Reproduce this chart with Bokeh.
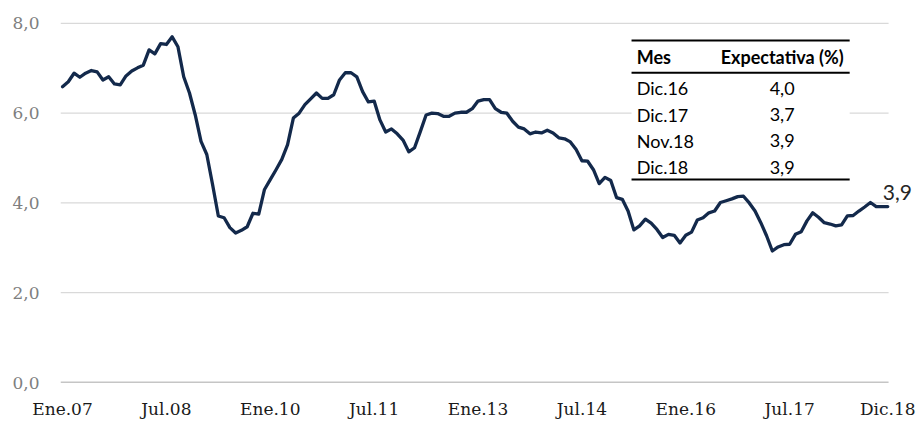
from bokeh.plotting import figure
from bokeh.models import (Range1d, FixedTicker, CustomJSTickFormatter, Label,
                          BoxAnnotation, ColumnDataSource)
from bokeh.embed import file_html
from bokeh.resources import INLINE

# ---- data -------------------------------------------------------------
expectativa = [
    6.59, 6.70, 6.89, 6.80, 6.89, 6.95, 6.92, 6.74, 6.81, 6.65, 6.63, 6.83,
    6.94, 7.01, 7.07, 7.41, 7.32, 7.55, 7.53, 7.70, 7.48, 6.81, 6.45, 5.96,
    5.37, 5.08, 4.41, 3.71, 3.67, 3.45, 3.33, 3.39, 3.47, 3.77, 3.75, 4.30,
    4.52, 4.74, 4.97, 5.30, 5.89, 6.00, 6.19, 6.32, 6.45, 6.33, 6.33, 6.41,
    6.74, 6.90, 6.90, 6.81, 6.48, 6.25, 6.27, 5.85, 5.58, 5.65, 5.54, 5.40,
    5.14, 5.23, 5.59, 5.96, 6.00, 5.99, 5.93, 5.93, 6.00, 6.02, 6.02, 6.10,
    6.27, 6.30, 6.30, 6.10, 6.02, 6.00, 5.82, 5.69, 5.65, 5.54, 5.58, 5.56,
    5.62, 5.56, 5.45, 5.43, 5.36, 5.19, 4.94, 4.93, 4.74, 4.43, 4.57, 4.50,
    4.12, 4.08, 3.82, 3.40, 3.49, 3.64, 3.55, 3.41, 3.23, 3.30, 3.28, 3.11,
    3.28, 3.35, 3.62, 3.67, 3.78, 3.82, 4.01, 4.05, 4.09, 4.14, 4.15, 4.00,
    3.82, 3.56, 3.27, 2.93, 3.02, 3.07, 3.08, 3.30, 3.36, 3.60, 3.78, 3.68,
    3.56, 3.53, 3.49, 3.51, 3.71, 3.72, 3.82, 3.91, 4.01, 3.92, 3.92, 3.92,
]
mes_idx = list(range(len(expectativa)))  # Ene.07 ... Dic.18

tick_idx = [0, 18, 36, 54, 72, 90, 108, 126, 143]
tick_labels = ["Ene.07", "Jul.08", "Ene.10", "Jul.11", "Ene.13",
               "Jul.14", "Ene.16", "Jul.17", "Dic.18"]
y_ticks = [0, 2, 4, 6, 8]

tabla_header = ["Mes", "Expectativa (%)"]
tabla_mes = ["Dic.16", "Dic.17", "Nov.18", "Dic.18"]
tabla_valor = ["4,0", "3,7", "3,9", "3,9"]

# ---- figure -----------------------------------------------------------
LINE_COLOR = "#13294b"
SERIF = "DejaVu Serif"
SANS = "Lato"

X_START, X_END = -0.35, 148.5     # frame runs to the right edge
GRID_END = 143.14                 # gridlines / axis line stop here

p = figure(width=919, height=421, output_backend="svg", toolbar_location=None,
           x_range=Range1d(X_START, X_END), y_range=Range1d(0, 8.51),
           min_border_left=60, min_border_right=0, min_border_top=0,
           min_border_bottom=37)
p.outline_line_color = None
p.background_fill_color = "white"
p.border_fill_color = "white"

# grid drawn as segments so that it stops before the end label
p.xgrid.grid_line_color = None
p.ygrid.grid_line_color = None
grid_y = y_ticks[1:]
p.segment(x0=[X_START] * len(grid_y), x1=[GRID_END] * len(grid_y),
          y0=grid_y, y1=grid_y, line_color="#d9d9d9", line_width=1.3)
p.segment(x0=[X_START], x1=[GRID_END], y0=[y_ticks[0]], y1=[y_ticks[0]],
          line_color="#8c8c8c", line_width=1.3)

# y axis
p.yaxis.ticker = FixedTicker(ticks=y_ticks)
p.yaxis.axis_line_color = None
p.yaxis.major_tick_line_color = None
p.yaxis.minor_tick_line_color = None
p.yaxis.major_tick_in = 0
p.yaxis.major_tick_out = 0
p.yaxis.major_label_standoff = 21
p.yaxis.major_label_text_font = SERIF
p.yaxis.major_label_text_font_size = "17px"
p.yaxis.major_label_text_color = "#7f7f7f"
p.yaxis.formatter = CustomJSTickFormatter(
    code="return tick.toFixed(1).replace('.', ',');")

# x axis
p.xaxis.ticker = FixedTicker(ticks=tick_idx)
p.xaxis.major_label_overrides = {t: l for t, l in zip(tick_idx, tick_labels)}
p.xaxis.axis_line_color = None
p.xaxis.major_tick_line_color = None
p.xaxis.minor_tick_line_color = None
p.xaxis.major_tick_in = 0
p.xaxis.major_tick_out = 0
p.xaxis.major_label_standoff = 16
p.xaxis.major_label_text_font = SERIF
p.xaxis.major_label_text_font_size = "17px"
p.xaxis.major_label_text_color = "#1a1a1a"

# series
src = ColumnDataSource(dict(x=mes_idx, y=expectativa))
p.line("x", "y", source=src, line_color=LINE_COLOR, line_width=3.3,
       line_join="round", line_cap="round")

# end label
p.add_layout(Label(x=mes_idx[-1], y=expectativa[-1],
                   text=f"{expectativa[-1]:.1f}".replace(".", ","),
                   x_offset=-5, y_offset=14, text_baseline="middle",
                   text_align="left", text_font=SANS,
                   text_font_size="21px", text_color="#262626"))

# ---- table (annotation) ----------------------------------------------
tab_left, tab_right = 98.6, 136.4
p.add_layout(BoxAnnotation(left=tab_left, right=tab_right, top=7.91,
                           bottom=4.39, fill_color="white", fill_alpha=1.0,
                           line_color=None))
rule_y = [7.62, 6.90, 4.52]
p.segment(x0=[tab_left] * 3, x1=[tab_right] * 3, y0=rule_y, y1=rule_y,
          line_color="black", line_width=2, level="overlay")

col1_x, col2_x = 99.5, 124.7
header_y = 7.25
p.add_layout(Label(x=col1_x, y=header_y, text=tabla_header[0],
                   text_baseline="middle", text_align="left",
                   text_font=SANS, text_font_style="bold",
                   text_font_size="18px", text_color="black"))
p.add_layout(Label(x=col2_x, y=header_y, text=tabla_header[1],
                   text_baseline="middle", text_align="center",
                   text_font=SANS, text_font_style="bold",
                   text_font_size="18px", text_color="black"))
row_y = [6.56, 5.96, 5.39, 4.79]
for m, v, ry in zip(tabla_mes, tabla_valor, row_y):
    p.add_layout(Label(x=col1_x, y=ry, text=m, text_baseline="middle",
                       text_align="left", text_font=SANS,
                       text_font_size="18px", text_color="black"))
    p.add_layout(Label(x=col2_x, y=ry, text=v, text_baseline="middle",
                       text_align="center", text_font=SANS,
                       text_font_size="18px", text_color="black"))

open("out.html", "w").write(file_html(p, INLINE))
